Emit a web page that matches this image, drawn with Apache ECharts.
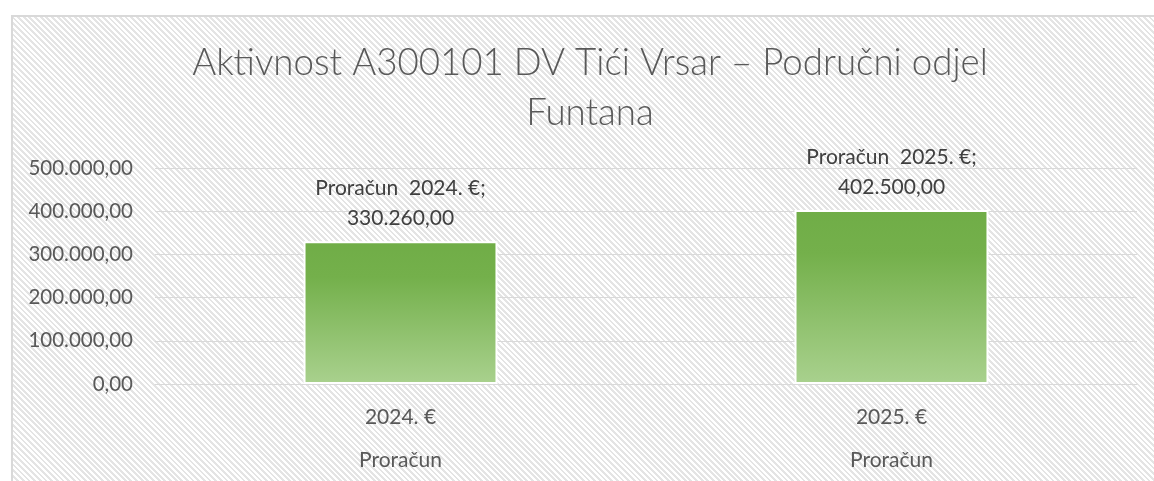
<!DOCTYPE html>
<html><head><meta charset="utf-8">
<script src="https://cdn.jsdelivr.net/npm/echarts@6/dist/echarts.min.js"></script>
<style>
html,body{margin:0;padding:0;background:#fff;overflow:hidden;width:1154px;height:481px;position:relative}
#bg{position:absolute;left:11px;top:15px;width:1160px;height:480px;border:2px solid #d9d9d9;
background:repeating-linear-gradient(45deg,#ffffff 0px,#ffffff 2px,#e4e4e4 2px,#e4e4e4 4px);}
#chart{position:absolute;left:0;top:0;width:1180px;height:481px}
</style></head>
<body>
<div id="bg"></div>
<div id="chart"></div>
<script>
const titleText = 'Aktivnost A300101 DV Tići Vrsar – Područni odjel\nFuntana';
const seriesName = 'Proračun';
const categories = ['2024. €', '2025. €'];
const values = [330260, 402500];
const yMin = 0, yMax = 500000, yStep = 100000;

function fmt(v) {
  const fixed = Number(v).toFixed(2);
  const parts = fixed.split('.');
  const intPart = parts[0].replace(/\B(?=(\d{3})+(?!\d))/g, '.');
  return intPart + ',' + parts[1];
}

const FONT = 'Lato';
const chart = echarts.init(document.getElementById('chart'), null, {renderer: 'canvas'});
chart.setOption({
  backgroundColor: 'transparent',
  animation: false,
  title: {
    text: titleText,
    left: 'center',
    top: 33,
    textStyle: {fontFamily: FONT, fontSize: 36.7, fontWeight: 300, color: '#595959', lineHeight: 50}
  },
  grid: {left: 155, right: 43, top: 168, bottom: 97},
  xAxis: {
    type: 'category',
    data: categories,
    axisLine: {show: true, lineStyle: {color: '#d9d9d9', width: 1}},
    axisTick: {show: false},
    axisLabel: {
      margin: 12,
      formatter: function (v) { return '{a|' + v + '}\n{b|' + seriesName + '}'; },
      rich: {
        a: {fontFamily: FONT, fontSize: 21, color: '#595959', lineHeight: 43},
        b: {fontFamily: FONT, fontSize: 21, color: '#595959', lineHeight: 43}
      }
    }
  },
  yAxis: {
    type: 'value',
    min: yMin, max: yMax, interval: yStep,
    axisLine: {show: false},
    axisTick: {show: false},
    splitLine: {lineStyle: {color: '#d9d9d9', width: 1}},
    axisLabel: {margin: 22, fontFamily: FONT, fontSize: 20.5, color: '#595959', formatter: fmt}
  },
  series: [{
    name: seriesName,
    type: 'bar',
    data: values,
    barWidth: '39.5%',
    itemStyle: {
      borderColor: '#ffffff', borderWidth: 2,
      color: new echarts.graphic.LinearGradient(0, 0, 0, 1, [
        {offset: 0, color: '#70ad47'},
        {offset: 0.25, color: '#74b04b'},
        {offset: 1, color: '#a9d18e'}
      ])
    },
    label: {
      show: true, position: 'top', distance: 8,
      fontFamily: FONT, fontSize: 21, color: '#404040', lineHeight: 30,
      formatter: function (p) { return p.seriesName + '  ' + p.name + ';\n' + fmt(p.value); }
    }
  }]
});
</script>
</body></html>
